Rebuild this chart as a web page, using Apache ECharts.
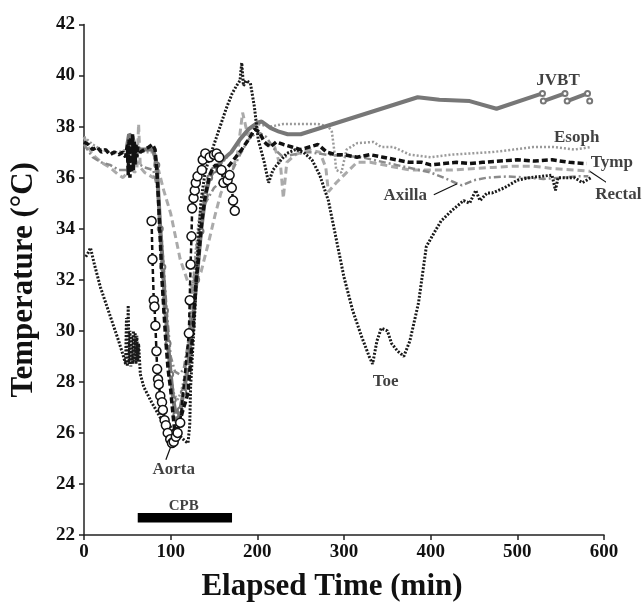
<!DOCTYPE html>
<html>
<head>
<meta charset="utf-8">
<script src="https://cdn.jsdelivr.net/npm/echarts@6/dist/echarts.min.js"></script>
<style>
html,body{margin:0;padding:0;background:#fff;}
#chart{width:643px;height:607px;}
</style>
</head>
<body>
<div id="chart"></div>
<script>
// ---- data (time in min, temperature in °C) ----
var xTicks = [0, 100, 200, 300, 400, 500, 600];
var yTicks = [22, 24, 26, 28, 30, 32, 34, 36, 38, 40, 42];

var toe = [[2,32.9],[4,33.0],[7.5,33.25],[12,32.6],[19,31.7],[26,31.0],[34,30.2],[40,29.6],[45.5,29.0],[48,28.7],[49,30.5],[50,28.6],[51,31.0],[52,28.7],[53,30.0],[54,28.6],[55,29.8],[56,28.7],[57,30.0],[58,28.8],[59,29.9],[60,28.7],[61,29.8],[62,28.8],[63,29.5],[65,28.3],[69,27.8],[78,27.2],[88,26.6],[96,26.4],[103,26.1],[110,25.9],[116,25.7],[120,25.6],[122,26.3],[123,27.8],[125.5,29.3],[128,30.8],[130,32.4],[132.6,33.9],[135,35.1],[139.7,36.2],[144,36.7],[150,37.3],[157,38.0],[164,38.7],[171,39.3],[176,39.6],[180,39.8],[182,40.5],[184,39.6],[187,39.8],[192,39.7],[196.5,38.8],[201,37.5],[208,36.6],[213,35.8],[218,36.3],[225,36.6],[234,36.95],[244,37.1],[253,37.0],[263,36.7],[272,36.1],[282,35.1],[291,33.6],[300,32.1],[310,30.8],[320,29.8],[329,29.0],[333,28.7],[338,29.6],[343,30.1],[350,30.0],[355,29.5],[362,29.2],[369,29.0],[376,29.6],[386,31.1],[395,33.3],[405,33.9],[412,34.3],[424,34.7],[438,35.1],[445,35.0],[452,35.5],[457,35.1],[465,35.4],[471,35.4],[485,35.6],[500,35.9],[514,36.0],[528,36.05],[540,36.1],[544,35.5],[547,36.0],[556,36.0],[566,36.0],[575,35.8],[585,36.0]];

var tymp = [[0,37.4],[5,37.3],[10,37.1],[15,37.2],[20,37.0],[25,37.1],[30,36.9],[35,37.0],[40,36.9],[45,37.0],[48,36.8],[50,37.3],[51,36.1],[52,37.5],[53,36.0],[54,37.6],[55,36.2],[56,37.7],[57,36.3],[58,37.4],[59,36.5],[60,37.3],[61,36.8],[62,37.2],[65,37.0],[70,37.1],[75,37.2],[79,37.3],[82,37.1],[84,36.3],[86,35.1],[90,32.0],[94,29.8],[97,28.5],[100,27.7],[103,26.6],[105,26.0],[108,26.3],[111,26.5],[115,27.0],[118,27.3],[120,27.6],[123,28.8],[126,30.2],[129,31.8],[132,32.8],[136,34.3],[140,35.3],[145,36.1],[149,36.4],[152,36.5],[157,36.4],[162,36.3],[168,36.5],[175,36.8],[182,37.1],[190,37.5],[197,37.9],[202,37.8],[208,37.4],[215,37.2],[222,37.4],[230,37.3],[240,37.2],[250,37.1],[260,37.2],[270,37.3],[280,37.0],[290,36.9],[300,36.9],[315,36.8],[330,36.9],[345,36.8],[360,36.7],[375,36.6],[390,36.6],[400,36.5],[415,36.55],[430,36.6],[445,36.55],[460,36.6],[480,36.65],[500,36.7],[520,36.65],[540,36.7],[560,36.6],[580,36.55]];

var aorta = [[78,34.3],[79,32.8],[80.5,31.2],[81.3,30.95],[82.4,30.2],[83.6,29.2],[84.4,28.5],[85.4,28.1],[86.2,27.9],[88,27.45],[90,27.2],[91,26.9],[93,26.5],[94.5,26.3],[96.6,26.0],[99.5,25.75],[101.5,25.6],[103.5,25.65],[106,25.85],[108,26.0],[111,26.4],[121,29.9],[122,31.2],[123,32.6],[124,33.7],[124.8,34.8],[126.4,35.2],[127.8,35.5],[129,35.8],[131,36.05],[136,36.3],[137,36.7],[140,36.95],[145,36.8],[150,36.9],[153,36.95],[156,36.8],[158.6,36.3],[161,35.8],[165.7,35.9],[168,36.1],[170.5,35.6],[172,35.1],[174,34.7]];

var jvbt = [[50,37.3],[52,37.7],[54,37.75],[56,37.6],[58,37.3],[62,37.1],[70,37.1],[80,37.1],[84,36.5],[88,34.0],[91,32.5],[94,30.8],[97,29.5],[100,28.3],[103,27.3],[106,26.7],[108,26.5],[111,26.9],[115,27.6],[120,28.6],[125,30.2],[130,32.0],[135,33.9],[140,35.3],[145,36.0],[150,36.3],[160,36.7],[170,37.0],[180,37.5],[190,37.9],[200,38.15],[205,38.2],[215,37.95],[225,37.8],[235,37.7],[250,37.7],[385,39.15],[410,39.05],[445,39.0],[476,38.7],[529,39.3],null,[530,39.0],[555,39.3],null,[557.5,39.0],[581,39.3],null,[583.5,39.0]];

var esoph = [[0,37.6],[10,37.3],[20,37.1],[30,37.0],[40,37.0],[50,37.1],[60,37.1],[70,37.0],[80,37.0],[84,36.0],[88,33.5],[92,31.0],[96,29.3],[100,28.2],[104,27.5],[108,27.3],[112,27.6],[116,28.2],[120,29.3],[124,31.0],[128,32.8],[132,34.2],[137,35.3],[142,35.9],[150,36.3],[160,36.6],[170,37.0],[180,37.5],[190,37.9],[200,38.1],[215,38.0],[230,38.1],[250,38.1],[270,38.1],[282,38.0],[286,37.8],[289,37.0],[291,36.3],[297,36.2],[303,37.1],[315,37.35],[334,37.4],[343,37.2],[357,37.2],[376,36.9],[400,36.8],[424,36.9],[447,36.95],[471,37.0],[495,37.1],[518,37.2],[542,37.2],[566,37.1],[585,37.2]];

var rectal = [[0,37.6],[5,37.2],[10,36.9],[20,36.6],[30,36.4],[40,36.1],[45,36.0],[50,36.2],[55,36.5],[58,36.2],[61,36.3],[63,38.1],[65,36.4],[70,36.2],[80,36.0],[86,36.3],[92,35.5],[100,34.6],[111,32.8],[120,31.9],[125,31.7],[135,32.3],[144,33.5],[151,34.5],[158,35.4],[168,36.0],[177,36.9],[183,38.55],[189,37.65],[199,38.0],[210,37.3],[220,37.2],[227,36.4],[230,35.2],[234,36.6],[244,36.9],[258,37.1],[272,37.0],[279,36.4],[282,35.45],[291,35.8],[300,36.1],[315,36.6],[330,36.6],[353,36.45],[376,36.3],[400,36.3],[424,36.3],[447,36.35],[471,36.4],[495,36.45],[518,36.45],[542,36.35],[566,36.3],[584,36.25]];

var axilla = [[0,37.3],[10,36.8],[20,36.6],[30,36.5],[40,36.3],[50,36.3],[60,36.6],[70,36.4],[80,36.3],[85,35.5],[90,33.5],[95,31.0],[100,29.0],[105,28.4],[110,28.3],[115,28.5],[120,29.5],[125,31.5],[130,33.3],[135,34.3],[140,35.0],[150,35.6],[160,35.9],[170,36.2],[180,36.9],[190,37.5],[200,37.8],[210,37.6],[220,37.1],[230,36.8],[240,36.9],[260,37.0],[280,36.9],[300,36.85],[320,36.8],[340,36.65],[360,36.5],[380,36.35],[400,36.2],[415,36.0],[425,35.85],[436,35.7],[450,35.9],[465,36.0],[490,36.05],[510,36.0],[530,35.95],[550,36.0],[570,36.05],[582,36.05]];

var cpbPeriod = [[62,22.68],[170.8,22.68]];

var labelNames = ['JVBT', 'Esoph', 'Tymp', 'Rectal', 'Axilla', 'Toe', 'Aorta', 'CPB'];
var labelAnchors = [[547,39.8],[568.5,37.58],[609,36.57],[616.5,35.33],[370.6,35.29],[348,28.0],[103.5,24.56],[115,23.13]];

var leaderAorta = [[100,25.45],[94.5,24.95]];
var leaderAxilla = [[403.6,35.33],[430.6,35.76]];
var leaderRectal = [[583.9,36.24],[618.5,35.46]];

// ---- chart ----
var serif = 'Liberation Serif, Times New Roman, serif';
var chart = echarts.init(document.getElementById('chart'), null, {renderer: 'canvas'});

function lineSeries(name, data, color, width, dash, z) {
  return {
    name: name, type: 'line', data: data, z: z,
    showSymbol: false, symbol: 'none', connectNulls: false, animation: false,
    lineStyle: {color: color, width: width, type: dash, cap: 'butt'}
  };
}

var labelData = labelNames.map(function (n, i) {
  return {name: n, value: labelAnchors[i],
    label: {fontSize: n === 'CPB' ? 15 : 17}};
});

var option = {
  animation: false,
  backgroundColor: '#ffffff',
  grid: {left: 83.5, right: 39, top: 24.5, bottom: 71},
  xAxis: {
    type: 'value', min: 0, max: 600, interval: 100,
    name: 'Elapsed Time (min)', nameLocation: 'middle', nameGap: 36,
    nameTextStyle: {fontFamily: serif, fontWeight: 'bold', fontSize: 31, color: '#111', padding: [0, 24, 0, 0]},
    axisLine: {show: true, lineStyle: {color: '#222', width: 1.5}},
    axisTick: {show: true, length: 5, lineStyle: {color: '#222', width: 1.5}},
    axisLabel: {fontFamily: serif, fontWeight: 'bold', fontSize: 19, color: '#111', margin: 8,
      formatter: function (v) { return xTicks.indexOf(v) >= 0 ? String(v) : ''; }},
    splitLine: {show: false}
  },
  yAxis: {
    type: 'value', min: 22, max: 42, interval: 2,
    name: 'Temperature (°C)', nameLocation: 'middle', nameGap: 45, nameRotate: 90,
    nameTextStyle: {fontFamily: serif, fontWeight: 'bold', fontSize: 31, color: '#111'},
    axisLine: {show: true, lineStyle: {color: '#222', width: 1.5}},
    axisTick: {show: true, length: 5, lineStyle: {color: '#222', width: 1.5}},
    axisLabel: {fontFamily: serif, fontWeight: 'bold', fontSize: 19, color: '#111', margin: 9,
      formatter: function (v) { return yTicks.indexOf(v) >= 0 ? String(v) : ''; }},
    splitLine: {show: false}
  },
  series: [
    lineSeries('Rectal', rectal, '#aaaaaa', 3, [7, 4], 2),
    lineSeries('Axilla', axilla, '#8a8a8a', 2.5, [7, 3, 2, 3], 3),
    lineSeries('Esoph', esoph, '#9a9a9a', 2.5, [2, 2], 4),
    {
      name: 'JVBT', type: 'line', data: jvbt, z: 5, connectNulls: false,
      showSymbol: true, symbolSize: 5,
      symbol: function (val) {
        if (!val) return 'none';
        var t = val[0];
        return ((t >= 84 && t <= 150) || t >= 529) ? 'emptyCircle' : 'none';
      },
      itemStyle: {color: '#777', borderColor: '#777', borderWidth: 1.2},
      lineStyle: {color: '#777777', width: 4}
    },
    lineSeries('Toe', toe, '#1a1a1a', 3, [2, 1.6], 6),
    lineSeries('Tymp', tymp, '#111111', 3.5, [6, 3], 7),
    {
      name: 'Aorta', type: 'line', data: aorta, z: 8,
      showSymbol: true, symbol: 'circle', symbolSize: 9,
      itemStyle: {color: '#ffffff', borderColor: '#111', borderWidth: 1.5},
      lineStyle: {color: '#111111', width: 2.5, type: [5, 3]}
    },
    {
      name: 'CPB', type: 'line', data: cpbPeriod, z: 9, symbol: 'none',
      lineStyle: {color: '#000', width: 9.5, cap: 'butt'}
    },
    lineSeries('leaderAorta', leaderAorta, '#111', 1.2, 'solid', 9),
    lineSeries('leaderAxilla', leaderAxilla, '#111', 1.2, 'solid', 9),
    lineSeries('leaderRectal', leaderRectal, '#111', 1.2, 'solid', 9),
    {
      name: 'labels', type: 'scatter', data: labelData, z: 10, clip: false, silent: true,
      symbolSize: 1, itemStyle: {color: 'rgba(0,0,0,0)'},
      label: {show: true, position: 'inside', formatter: function (p) { return p.name; },
        fontFamily: serif, fontWeight: 'bold', color: '#111'}
    }
  ]
};
option.series.forEach(function (s) { s.clip = false; s.animation = false; });
chart.setOption(option);
</script>
</body>
</html>
